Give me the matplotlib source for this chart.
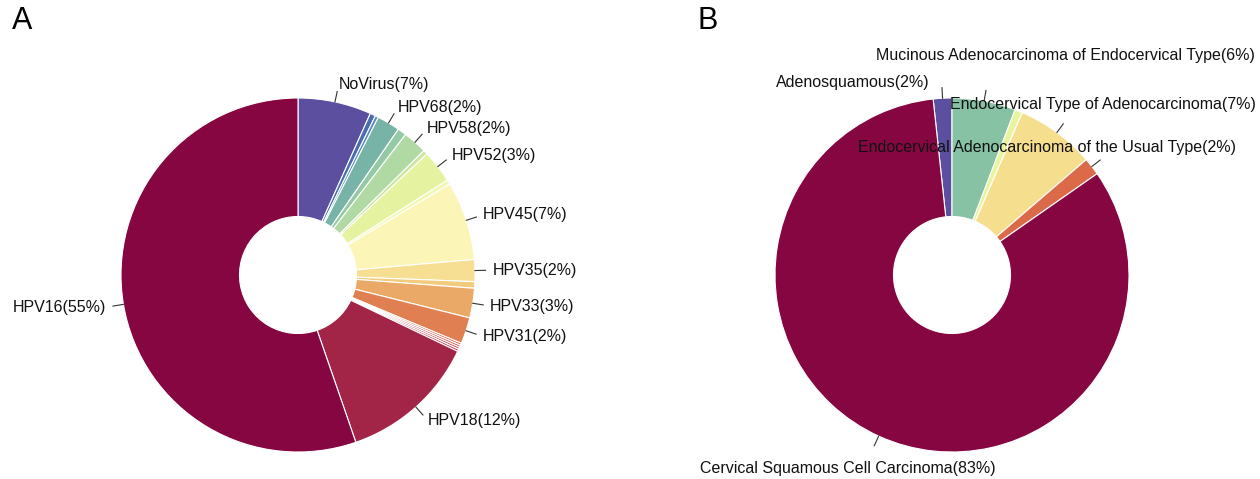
import numpy as np
import matplotlib
matplotlib.use("Agg")
import matplotlib.pyplot as plt

plt.rcParams['font.family'] = ['Liberation Sans', 'DejaVu Sans']

# panel A: HPV type shares (%), clockwise from 12 o'clock
a_labels = ['NoVirus(7%)', '', '', 'HPV68(2%)', '', 'HPV58(2%)', '', 'HPV52(3%)', '',
            'HPV45(7%)', 'HPV35(2%)', '', 'HPV33(3%)', 'HPV31(2%)', '', '', '', '',
            'HPV18(12%)', 'HPV16(55%)']
a_values = [6.7, 0.5, 0.3, 2.1, 0.8, 2.2, 0.4, 3.0, 0.4,
            7.2, 2.0, 0.6, 2.7, 2.4, 0.2, 0.2, 0.2, 0.2,
            12.6, 55.3]
a_colors = ['#5C4FA0', '#4A6CB0', '#5B8DBB', '#78B3A8', '#95C9A6', '#B1D9A3', '#CBE6A0',
            '#E5F3A0', '#F2F7B0', '#FBF5B8', '#F6DF92', '#F1CC7F', '#EAA966', '#DF7F52',
            '#D8674C', '#CE5550', '#C3454E', '#B5374C', '#A22548', '#860641']

# panel B: histology shares (%)
b_labels = ['Adenosquamous(2%)', 'Mucinous Adenocarcinoma of Endocervical Type(6%)', '',
            'Endocervical Type of Adenocarcinoma(7%)',
            'Endocervical Adenocarcinoma of the Usual Type(2%)',
            'Cervical Squamous Cell Carcinoma(83%)']
b_values = [1.7, 5.8, 0.7, 7.2, 1.6, 83.0]
b_colors = ['#5C4FA0', '#87C2A5', '#E8F59E', '#F5DE8E', '#DA6A48', '#860641']
# where the B labels were pushed to (pixel position, top-left origin), and alignment
b_text_pos = [(930, 82, 'right'), (876, 55, 'left'), None, (950, 104, 'left'),
              (858, 147, 'left'), (700, 468, 'left')]

W, H = 1260, 479
R, r = 177, 58.5

fig = plt.figure(figsize=(W / 100, H / 100), dpi=100)
ax = fig.add_axes([0, 0, 1, 1])
ax.set_xlim(0, W)
ax.set_ylim(0, H)
ax.set_aspect('equal')
ax.axis('off')


def donut(center, values, colors, start):
    wedges, _ = ax.pie(values, colors=colors, center=center, radius=R,
                       startangle=start, counterclock=False, normalize=True,
                       wedgeprops=dict(width=R - r, edgecolor='white', linewidth=0.8))
    return wedges


def leader(center, w):
    ang = np.deg2rad((w.theta1 + w.theta2) / 2)
    p0 = (center[0] + R * np.cos(ang), center[1] + R * np.sin(ang))
    p1 = (center[0] + 1.06 * R * np.cos(ang), center[1] + 1.06 * R * np.sin(ang))
    ax.plot([p0[0], p1[0]], [p0[1], p1[1]], color='#333333', lw=0.8)
    return ang


# A
ca = (298, H - 275)
wa = donut(ca, a_values, a_colors, 90)
ax.set_xlim(0, W)
ax.set_ylim(0, H)
for w, lab in zip(wa, a_labels):
    if not lab:
        continue
    ang = leader(ca, w)
    x = ca[0] + 1.1 * R * np.cos(ang)
    y = ca[1] + 1.1 * R * np.sin(ang)
    ax.text(x, y, lab, fontsize=11.5, ha='left' if np.cos(ang) >= 0 else 'right',
            va='center', color='#111111')

# B
cb = (952, H - 275)
wb = donut(cb, b_values, b_colors, 90 + 360 * b_values[0] / 100)
ax.set_xlim(0, W)
ax.set_ylim(0, H)
for w, lab, pos in zip(wb, b_labels, b_text_pos):
    if not lab:
        continue
    leader(cb, w)
    ax.text(pos[0], H - pos[1], lab, fontsize=11.5, ha=pos[2], va='center',
            color='#111111')

ax.text(12, H - 21, 'A', fontsize=22, ha='left', va='center')
ax.text(697, H - 21, 'B', fontsize=22, ha='left', va='center')

fig.savefig('out.png', dpi=100)
